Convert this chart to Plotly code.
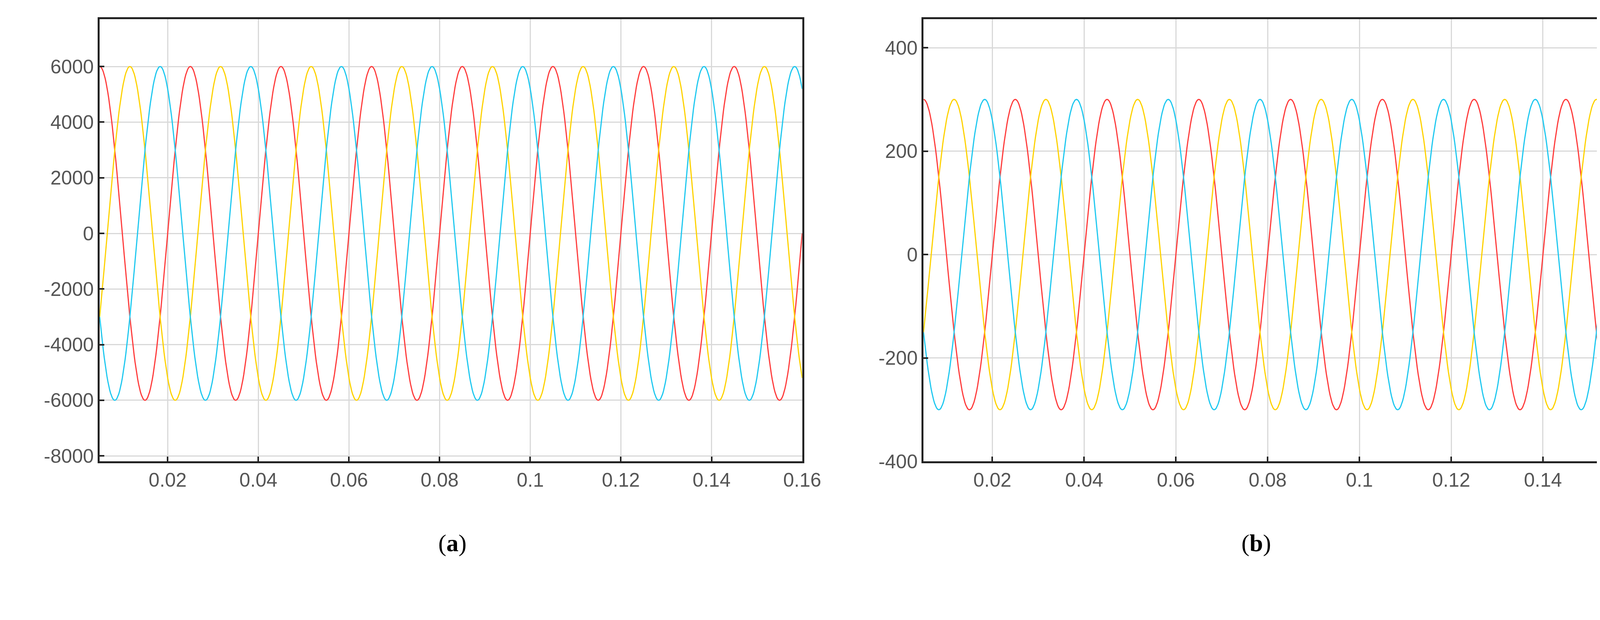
import numpy as np
import plotly.graph_objects as go

# Signal parameters
freq_hz = 50.0
t_start, t_end, t_step = 0.005, 0.16, 0.0002
phase_names = ["A", "B", "C"]
phase_colors = ["#ff3b3b", "#ffd200", "#1ec8f0"]
phase_delays = [0.0, 0.02 / 3, 2 * 0.02 / 3]  # seconds after t_start
amp_a = 6000
amp_b = 300

xticks = [0.02, 0.04, 0.06, 0.08, 0.1, 0.12, 0.14, 0.16]
xticklabels = ["0.02", "0.04", "0.06", "0.08", "0.1", "0.12", "0.14", "0.16"]
yticks_a = [-8000, -6000, -4000, -2000, 0, 2000, 4000, 6000]
yticklabels_a = ["-8000", "-6000", "-4000", "-2000", "0", "2000", "4000", "6000"]
yticks_b = [-400, -200, 0, 200, 400]
yticklabels_b = ["-400", "-200", "0", "200", "400"]

t = np.arange(t_start, t_end + t_step / 2, t_step)

fig = go.Figure()
for name, col, d in zip(phase_names, phase_colors, phase_delays):
    w = np.cos(2 * np.pi * freq_hz * (t - t_start - d))
    fig.add_trace(go.Scatter(x=t, y=amp_a * w, mode="lines", line=dict(color=col, width=3),
                             name=name, xaxis="x", yaxis="y", showlegend=False))
    fig.add_trace(go.Scatter(x=t, y=amp_b * w, mode="lines", line=dict(color=col, width=3),
                             name=name, xaxis="x2", yaxis="y2", showlegend=False))

ax_common = dict(showline=True, linecolor="#222222", linewidth=5, mirror=True,
                 showgrid=True, gridcolor="#d9d9d9", gridwidth=3, zeroline=False,
                 ticks="inside", ticklen=12, tickwidth=4, tickcolor="#222222",
                 tickfont=dict(family="Liberation Sans, Arial", size=50, color="#555555"))

fig.update_layout(
    width=4333, height=1586, margin=dict(l=0, r=0, t=0, b=0),
    paper_bgcolor="white", plot_bgcolor="white",
    xaxis=dict(domain=[0.0577, 0.4775], range=[t_start, t_end], tickvals=xticks,
               ticktext=xticklabels, anchor="y", **ax_common),
    yaxis=dict(domain=[0.247, 0.9735], range=[-8200, 7700], tickvals=yticks_a,
               ticktext=yticklabels_a, anchor="x", **ax_common),
    xaxis2=dict(domain=[0.55, 0.975], range=[t_start, t_end], tickvals=xticks,
                ticktext=xticklabels, anchor="y2", **ax_common),
    yaxis2=dict(domain=[0.247, 0.9735], range=[-400, 455], tickvals=yticks_b,
                ticktext=yticklabels_b, anchor="x2", **ax_common),
    annotations=[
        dict(text="(<b>a</b>)", x=1125 / 4333, y=1 - 1444 / 1586, xref="paper", yref="paper",
             showarrow=False, font=dict(family="Liberation Serif", size=62, color="black")),
        dict(text="(<b>b</b>)", x=3285 / 4333, y=1 - 1444 / 1586, xref="paper", yref="paper",
             showarrow=False, font=dict(family="Liberation Serif", size=62, color="black")),
    ],
)

fig.write_html("out.html")
